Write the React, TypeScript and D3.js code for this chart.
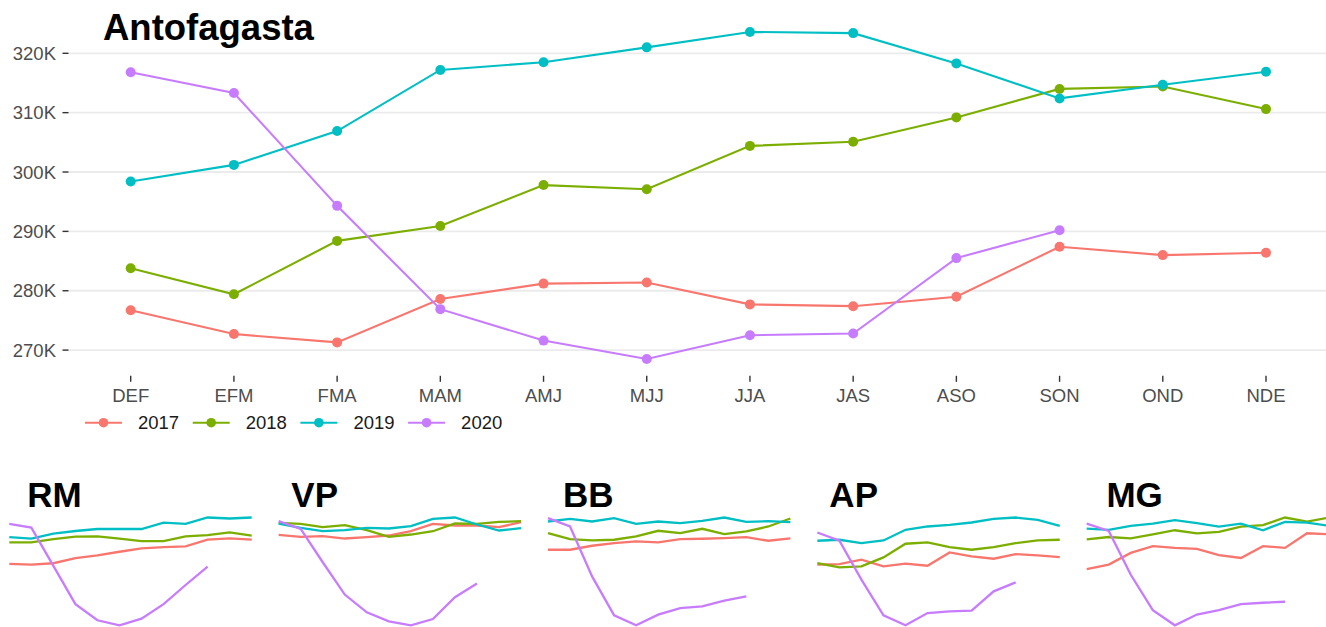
import * as d3 from 'd3'

// rolling 3-month windows
const months = ['DEF', 'EFM', 'FMA', 'MAM', 'AMJ', 'MJJ', 'JJA', 'JAS', 'ASO', 'SON', 'OND', 'NDE']
const years = ['2017', '2018', '2019', '2020']
const colors = ['#F8766D', '#7CAE00', '#00BFC4', '#C77CFF']

// Antofagasta, thousands
const antof2017 = [276.7, 272.7, 271.3, 278.6, 281.2, 281.4, 277.7, 277.4, 279.0, 287.4, 286.0, 286.4]
const antof2018 = [283.8, 279.4, 288.4, 290.9, 297.8, 297.1, 304.4, 305.1, 309.2, 314.0, 314.4, 310.6]
const antof2019 = [298.4, 301.2, 306.9, 317.2, 318.5, 321.0, 323.6, 323.4, 318.3, 312.4, 314.7, 316.9]
const antof2020 = [316.8, 313.3, 294.3, 276.9, 271.6, 268.5, 272.5, 272.8, 285.5, 290.2]
const yTicks = [270, 280, 290, 300, 310, 320]

// small multiples, relative index (each panel on its own scale)
const regions = ['RM', 'VP', 'BB', 'AP', 'MG']
const rm2017 = [62.7, 62.0, 63.3, 68.3, 71.0, 74.7, 78.0, 79.3, 80.0, 86.7, 88.0, 86.7]
const rm2018 = [84.0, 84.0, 87.3, 89.7, 90.0, 87.7, 85.3, 85.3, 90.0, 91.3, 94.0, 90.7]
const rm2019 = [89.3, 87.7, 92.7, 95.3, 97.3, 97.3, 97.3, 103.7, 102.3, 108.7, 107.7, 108.7]
const rm2020 = [102.3, 98.7, 60.7, 22.7, 6.7, 1.7, 8.3, 22.7, 41.7, 60.0]
const vp2017 = [91.3, 89.3, 90.0, 87.7, 89.0, 90.7, 95.0, 102.3, 100.7, 100.7, 99.0, 104.0]
const vp2018 = [103.3, 102.3, 99.0, 101.0, 96.0, 89.3, 91.7, 95.0, 102.7, 102.3, 104.3, 105.0]
const vp2019 = [102.7, 98.3, 95.0, 96.0, 98.3, 97.7, 100.0, 107.3, 108.7, 101.7, 95.7, 98.0]
const vp2020 = [105.0, 97.3, 64.0, 31.7, 14.0, 5.0, 1.0, 7.3, 29.0, 42.7]
const bb2017 = [76.7, 76.7, 80.7, 83.3, 85.0, 84.0, 87.3, 87.7, 88.3, 89.3, 85.7, 88.0]
const bb2018 = [93.3, 87.3, 86.0, 86.7, 90.0, 95.7, 93.3, 97.7, 92.3, 95.0, 100.0, 108.0]
const bb2019 = [105.0, 107.7, 105.0, 108.3, 102.7, 105.0, 103.3, 105.7, 109.0, 104.7, 105.3, 104.3]
const bb2020 = [108.3, 100.0, 50.0, 11.0, 1.0, 11.7, 18.3, 20.0, 25.7, 30.0]
const ap2017 = [61.7, 62.3, 66.7, 60.0, 62.7, 60.7, 74.0, 70.0, 67.7, 72.3, 71.0, 69.3]
const ap2018 = [63.3, 59.0, 60.0, 69.0, 82.7, 84.0, 79.3, 76.7, 79.3, 83.3, 86.0, 86.7]
const ap2019 = [85.7, 86.7, 83.3, 86.0, 96.7, 100.0, 101.7, 104.0, 107.7, 109.0, 106.7, 100.7]
const ap2020 = [94.0, 85.7, 46.7, 11.0, 1.0, 13.3, 15.0, 15.7, 35.0, 44.0]
const mg2017 = [57.3, 61.7, 73.3, 80.0, 78.3, 77.3, 71.0, 68.3, 80.0, 78.3, 92.7, 91.7]
const mg2018 = [86.7, 89.0, 87.7, 91.7, 95.7, 92.7, 94.0, 99.3, 100.7, 108.3, 104.3, 108.3]
const mg2019 = [97.3, 96.0, 100.0, 102.3, 105.7, 102.7, 99.3, 102.3, 95.7, 104.0, 103.3, 100.0]
const mg2020 = [102.3, 95.0, 51.7, 16.7, 1.7, 12.3, 16.7, 22.7, 24.0, 25.0]

const antofSeries = [antof2017, antof2018, antof2019, antof2020]
const smallSeries = [
  [rm2017, rm2018, rm2019, rm2020],
  [vp2017, vp2018, vp2019, vp2020],
  [bb2017, bb2018, bb2019, bb2020],
  [ap2017, ap2018, ap2019, ap2020],
  [mg2017, mg2018, mg2019, mg2020],
]

const W = 1326
const H = 627
const FONT = '"Liberation Sans", Arial, sans-serif'
// title nudges per small panel (glyph bearings differ)
const titleDx = [18, 12.7, 15, 12, 19.7]

export default function App() {
  // main panel
  const x = d3.scalePoint<string>().domain(months).range([130.7, 1266])
  const y = d3.scaleLinear().domain([270, 320]).range([350.1, 53.3])
  const line = d3.line<number>()
    .x((_, i) => x(months[i]) as number)
    .y(d => y(d))

  // small multiples
  const smallX = d3.scalePoint<string>().domain(months).range([0, 242.4])
  const panelX = d3.scalePoint<string>().domain(regions).range([9.3, 9.3 + 4 * 269.35])

  return (
    <svg width={W} height={H} style={{ position: 'absolute', left: 0, top: 0, background: '#fff' }}
      fontFamily={FONT}>
      <rect width={W} height={H} fill="#fff" />

      {/* gridlines */}
      {yTicks.map(t => (
        <line key={t} x1={68.5} x2={W} y1={y(t)} y2={y(t)} stroke="#ebebeb" strokeWidth={1.8} />
      ))}
      {/* y axis */}
      {yTicks.map(t => (
        <g key={'yt' + t}>
          <line x1={62.5} x2={68.5} y1={y(t)} y2={y(t)} stroke="#333" strokeWidth={1.4} />
          <text x={56} y={y(t)} dy="0.36em" textAnchor="end" fontSize={18.5} fill="#4d4d4d">
            {t}K
          </text>
        </g>
      ))}
      {/* x axis */}
      {months.map(m => (
        <g key={'xt' + m}>
          <line x1={x(m)} x2={x(m)} y1={375.8} y2={381.8} stroke="#333" strokeWidth={1.4} />
          <text x={x(m)} y={401.5} textAnchor="middle" fontSize={18.5} fill="#4d4d4d">{m}</text>
        </g>
      ))}

      {antofSeries.map((s, k) => (
        <path key={'l' + k} d={line(s) ?? ''} fill="none" stroke={colors[k]} strokeWidth={2.1} />
      ))}
      {antofSeries.map((s, k) => (
        <g key={'p' + k} fill={colors[k]}>
          {s.map((v, i) => (
            <circle key={i} cx={x(months[i])} cy={y(v)} r={5} />
          ))}
        </g>
      ))}

      <text x={103} y={40} fontSize={36.5} fontWeight="bold" fill="#000">Antofagasta</text>

      {/* legend */}
      {years.map((yr, k) => (
        <g key={yr} transform={`translate(${85 + k * 107.7},422.7)`}>
          <line x1={0} x2={37} y1={0} y2={0} stroke={colors[k]} strokeWidth={2.1} />
          <circle cx={18.5} cy={0} r={4.8} fill={colors[k]} />
          <text x={53} y={6.6} fontSize={18.5} fill="#1a1a1a">{yr}</text>
        </g>
      ))}

      {/* small multiples */}
      {regions.map((r, p) => {
        const all = smallSeries[p].flat()
        const sy = d3.scaleLinear().domain(d3.extent(all) as [number, number]).range([625.3, 517.5])
        const sl = d3.line<number>()
          .x((_, i) => smallX(months[i]) as number)
          .y(d => sy(d))
        const ox = panelX(r) as number
        return (
          <g key={r} transform={`translate(${ox},0)`}>
            {smallSeries[p].map((s, k) => (
              <path key={k} d={sl(s) ?? ''} fill="none" stroke={colors[k]} strokeWidth={2.3} />
            ))}
            <text x={titleDx[p]} y={506.5} fontSize={35} fontWeight="bold" fill="#000">{r}</text>
          </g>
        )
      })}
    </svg>
  )
}
